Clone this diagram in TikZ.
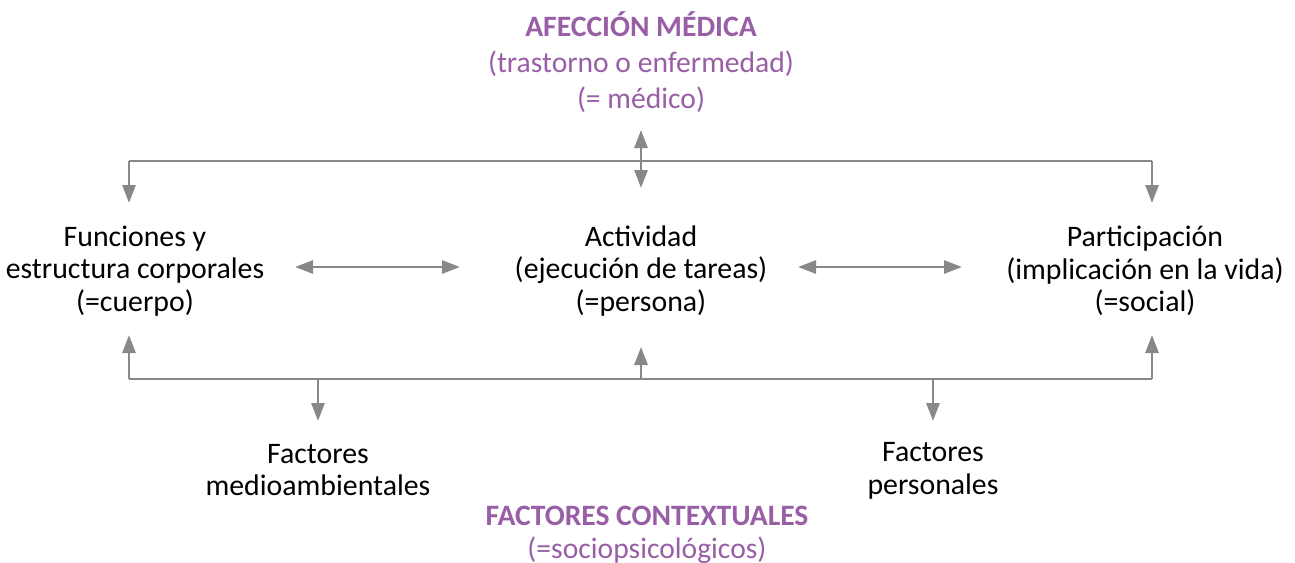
\documentclass[tikz,border=0pt]{standalone}
\usepackage{fontspec}
\setmainfont{Carlito}
\usetikzlibrary{arrows.meta}
\definecolor{purp}{RGB}{152,94,166}
\definecolor{arrgray}{RGB}{136,136,136}
\begin{document}
\begin{tikzpicture}[x=1pt,y=-1pt,
  conn/.style={draw=arrgray, line width=2.8pt, -{Triangle[length=18pt,width=13pt]}},
  bothconn/.style={draw=arrgray, line width=2.8pt, {Triangle[length=18pt,width=13pt]}-{Triangle[length=18pt,width=13pt]}},
  plain/.style={draw=arrgray, line width=2.8pt},
  txt/.style={font=\fontsize{29.8}{32.5}\selectfont, align=center, text=black, inner sep=0pt},
  ttl/.style={font=\fontsize{29.6}{36}\selectfont, align=center, text=purp, inner sep=0pt}]
\useasboundingbox (0,0) rectangle (1295,562);
% texts
\node[ttl] (afec) at (641,62) {\textbf{AFECCIÓN MÉDICA}\\(trastorno o enfermedad)\\(= médico)};
\node[txt] (func) at (135,271) {Funciones y\\estructura corporales\\(=cuerpo)};
\node[txt] (act) at (641,271) {Actividad\\(ejecución de tareas)\\(=persona)};
\node[txt] (part) at (1145,271) {Participación\\(implicación en la vida)\\(=social)};
\node[txt] (fmed) at (318,470) {Factores\\medioambientales};
\node[txt] (fper) at (933,471) {Factores\\personales};
\node[ttl, font=\fontsize{29.6}{33}\selectfont] (fctx) at (647,535) {\textbf{FACTORES CONTEXTUALES}\\(=sociopsicológicos)};
% coordinates
\coordinate (tl) at (129,161);
\coordinate (tr) at (1152,161);
\coordinate (tm) at (641,161);
\coordinate (bl) at (129,379);
\coordinate (br) at (1152,379);
\coordinate (bm) at (641,379);
\coordinate (bfm) at (318,379);
\coordinate (bfp) at (933,379);
% top bracket
\draw[plain] (tl) -- (tr);
\draw[conn] (tl) -- (129,203);
\draw[conn] (tr) -- (1152,203);
\draw[bothconn] (641,130) -- (641,188);
% horizontal arrows
\draw[bothconn] (295,267) -- (460,267);
\draw[bothconn] (798,267) -- (962,267);
% bottom bracket
\draw[plain] (bl) -- (br);
\draw[conn] (bl) -- (129,335);
\draw[conn] (br) -- (1152,335);
\draw[conn] (bm) -- (641,347);
\draw[conn] (bfm) -- (318,421);
\draw[conn] (bfp) -- (933,421);
\end{tikzpicture}
\end{document}
